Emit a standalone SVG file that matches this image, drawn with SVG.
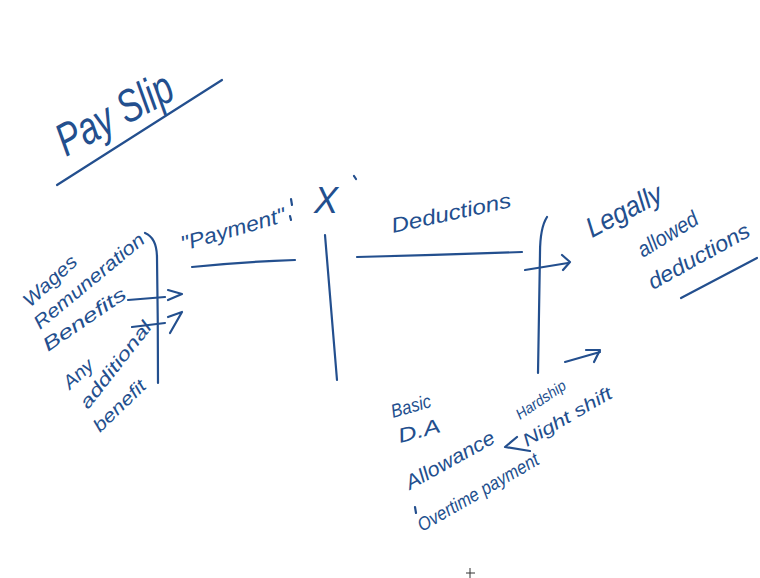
<svg xmlns="http://www.w3.org/2000/svg" width="760" height="578" viewBox="0 0 760 578">
<style>
.ink{fill:none;stroke:#234f8e;stroke-width:2.2;stroke-linecap:round;stroke-linejoin:round}
.t{fill:#234f8e;font-family:"Liberation Sans","DejaVu Sans",sans-serif;font-style:italic}
</style>
<rect width="760" height="578" fill="#ffffff"/>
<g id="title">
<text class="t" font-size="46" textLength="126" lengthAdjust="spacingAndGlyphs" transform="translate(66,157) rotate(-28)">Pay Slip</text>
<path class="ink" d="M57,185 L222,80"/>
</g>
<g id="earnings">
<text class="t" font-size="19" textLength="66" lengthAdjust="spacingAndGlyphs" transform="translate(30,308) rotate(-42.5)">Wages</text>
<text class="t" font-size="19" textLength="138" lengthAdjust="spacingAndGlyphs" transform="translate(40,330) rotate(-39.7)">Remuneration</text>
<text class="t" font-size="19" textLength="97" lengthAdjust="spacingAndGlyphs" transform="translate(48,352) rotate(-34.5)">Benefits</text>
<text class="t" font-size="19" textLength="34" lengthAdjust="spacingAndGlyphs" transform="translate(70,390) rotate(-42.6)">Any</text>
<text class="t" font-size="18" textLength="105" lengthAdjust="spacingAndGlyphs" transform="translate(88,410) rotate(-52)">additional</text>
<text class="t" font-size="18" textLength="66" lengthAdjust="spacingAndGlyphs" transform="translate(100,433) rotate(-44)">benefit</text>
</g>
<g id="payment">
<text class="t" font-size="21" textLength="108" lengthAdjust="spacingAndGlyphs" transform="translate(183,251) rotate(-16)">"Payment"</text>
<path class="ink" d="M192,267 Q240,262 295,260"/>
<path class="ink" d="M291,199 L292,205 M290,216 L291,220"/>
</g>
<g id="times">
<text class="t" font-size="36" font-style="normal" x="314" y="213">X</text>
<path class="ink" d="M354,176 L356,179"/>
</g>
<g id="deductions">
<text class="t" font-size="21" textLength="122" lengthAdjust="spacingAndGlyphs" transform="translate(393,233) rotate(-12.3)">Deductions</text>
<path class="ink" d="M357,257 Q440,255 522,252"/>
</g>
<g id="legal">
<text class="t" font-size="28" textLength="82" lengthAdjust="spacingAndGlyphs" transform="translate(592,238) rotate(-27.5)">Legally</text>
<text class="t" font-size="22" textLength="67" lengthAdjust="spacingAndGlyphs" transform="translate(643,258) rotate(-31.5)">allowed</text>
<text class="t" font-size="22" textLength="113" lengthAdjust="spacingAndGlyphs" transform="translate(653,290) rotate(-29)">deductions</text>
<path class="ink" d="M681,298 L757,258"/>
</g>
<g id="components">
<text class="t" font-size="19" textLength="41" lengthAdjust="spacingAndGlyphs" transform="translate(393,418) rotate(-16)">Basic</text>
<text class="t" font-size="20" textLength="43" lengthAdjust="spacingAndGlyphs" transform="translate(400,443) rotate(-15)">D.A</text>
<text class="t" font-size="20" textLength="99" lengthAdjust="spacingAndGlyphs" transform="translate(410,490) rotate(-29)">Allowance</text>
<text class="t" font-size="15" textLength="57" lengthAdjust="spacingAndGlyphs" transform="translate(520,420) rotate(-34)">Hardship</text>
<text class="t" font-size="18" textLength="100" lengthAdjust="spacingAndGlyphs" transform="translate(527,447) rotate(-30)">Night shift</text>
<path class="ink" d="M415,507 L416,513"/>
<text class="t" font-size="19" textLength="137" lengthAdjust="spacingAndGlyphs" transform="translate(422,532) rotate(-30)">Overtime payment</text>
</g>
<g id="connectors">
<path class="ink" d="M145,233 Q157,238 157,258 Q158,320 158,383"/>
<path class="ink" d="M128,300 L165,297"/>
<path class="ink" d="M168,290 L182,294 L168,300"/>
<path class="ink" d="M132,327 L165,323"/>
<path class="ink" d="M168,317 L182,312 L170,333"/>
<path class="ink" d="M325,235 Q331,310 337,380"/>
<path class="ink" d="M547,217 Q540,228 540,253 Q539,320 538,373"/>
<path class="ink" d="M525,270 L568,263"/>
<path class="ink" d="M562,255 L570,262 L563,270"/>
<path class="ink" d="M565,362 L600,352"/>
<path class="ink" d="M586,350 L600,350 L594,362"/>
<path class="ink" d="M517,437 L505,447 L530,451"/>
<path d="M466,573 L475,573 M470,568 L470,578" stroke="#333" stroke-width="1" fill="none"/>
</g>
</svg>
